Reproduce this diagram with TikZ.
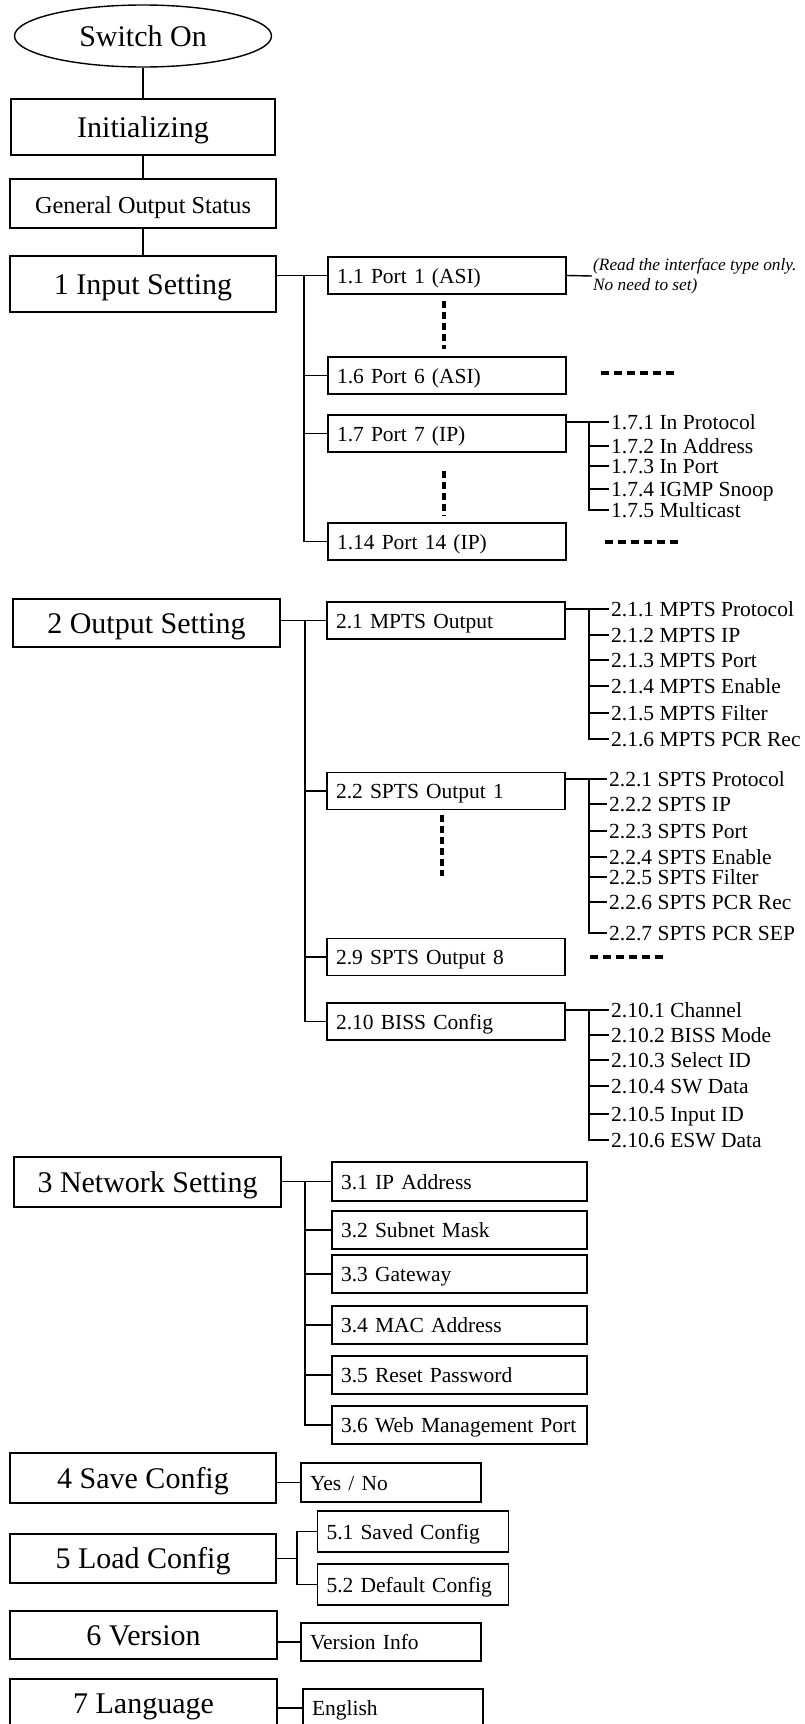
\documentclass[tikz,border=0pt]{standalone}
\usepackage{fontspec}
\setmainfont{Liberation Serif}
\usetikzlibrary{shapes.geometric}

\begin{document}
\begin{tikzpicture}[x=1pt, y=-1pt, every node/.style={inner sep=0pt},
	link/.style={line width=1.4pt},
	mainbox/.style={draw, line width=1.4pt, minimum width=266pt, minimum height=49pt, text height=20pt, text depth=0pt, font=\fontsize{30}{34}\selectfont},
	subbox/.style={draw, line width=1.4pt, minimum height=37pt, text width=#1, inner xsep=9pt, align=left, text height=15pt, text depth=0pt, font=\fontsize{21.5}{25}\selectfont},
	item/.style={anchor=west, inner xsep=2pt, text height=15pt, text depth=0pt, font=\fontsize{21.5}{25}\selectfont},
	etc/.style={line width=4pt, dash pattern=on 7pt off 4pt}]
	\path[use as bounding box] (0,0) rectangle (804,1724);
	\clip (0,0) rectangle (804,1724);

	\node[draw, ellipse, line width=1.4pt, minimum width=257pt, minimum height=62pt, text height=20pt, text depth=0pt, font=\fontsize{30}{34}\selectfont] (sw) at (143,36) {Switch On};
	\node[mainbox, minimum width=264pt, minimum height=56pt] (init) at (143,127) {Initializing};
	\node[mainbox, font=\fontsize{24.3}{28}\selectfont] (gos) at (143,203.5) {General Output Status};
	\node[mainbox, minimum height=56pt] (in) at (143,284) {1 Input Setting};
	\draw[link] (sw) -- (init);
	\draw[link] (init) -- (gos);
	\draw[link] (gos) -- (in);

	\node[subbox=220pt] (p1) at (447,275.5) {1.1 Port 1 (ASI)};
	\node[subbox=220pt] (p6) at (447,375.5) {1.6 Port 6 (ASI)};
	\node[subbox=220pt] (p7) at (447,433.5) {1.7 Port 7 (IP)};
	\node[subbox=220pt] (p14) at (447,541.5) {1.14 Port 14 (IP)};
	\coordinate (tin) at (304,275.5);
	\draw[link] (in.east |- p1.west) -- (p1.west);
	\draw[link] (tin) |- (p14.west);
	\draw[link] (tin |- p6.west) -- (p6.west);
	\draw[link] (tin |- p7.west) -- (p7.west);
	\node[anchor=west, align=left, inner xsep=1pt, font=\itshape\fontsize{17.3}{20}\selectfont] (note) at (592,276) {(Read the interface type only.\\No need to set)};
	\draw[link] (p1.east) -- (note.west);
	\draw[etc] ([shift={(-3pt,-6pt)}]p1.south) -- ([shift={(-3pt,7pt)}]p6.north);
	\draw[etc] ([shift={(-3pt,-18pt)}]p7.south) -- ([shift={(-3pt,6pt)}]p14.north);
	\draw[etc, dash pattern=on 8pt off 5pt] ([shift={(34pt,3pt)}]p6.east) -- ([shift={(107pt,3pt)}]p6.east);
	\draw[etc, dash pattern=on 8pt off 5pt] ([xshift=38pt]p14.east) -- ([xshift=111pt]p14.east);

	\node[item] (a1) at (609,422) {1.7.1 In Protocol};
	\node[item] (a2) at (609,446) {1.7.2 In Address};
	\node[item] (a3) at (609,466) {1.7.3 In Port};
	\node[item] (a4) at (609,489) {1.7.4 IGMP Snoop};
	\node[item] (a5) at (609,510) {1.7.5 Multicast};
	\coordinate (ta) at (589,422);
	\draw[link] (p7.east |- a1.west) -- (a1.west);
	\draw[link] (ta) |- (a5.west);
	\draw[link] (ta |- a2.west) -- (a2.west);
	\draw[link] (ta |- a3.west) -- (a3.west);
	\draw[link] (ta |- a4.west) -- (a4.west);

	\node[mainbox, minimum width=267pt, minimum height=48pt] (out) at (146.5,623) {2 Output Setting};
	\node[subbox=220pt] (o1) at (446,620.5) {2.1 MPTS Output};
	\node[subbox=220pt] (o2) at (446,791) {2.2 SPTS Output 1};
	\node[subbox=220pt] (o9) at (446,957) {2.9 SPTS Output 8};
	\node[subbox=220pt] (o10) at (446,1021.5) {2.10 BISS Config};
	\coordinate (tout) at (305,620.5);
	\draw[link] (out.east |- o1.west) -- (o1.west);
	\draw[link] (tout) |- (o10.west);
	\draw[link] (tout |- o2.west) -- (o2.west);
	\draw[link] (tout |- o9.west) -- (o9.west);
	\draw[etc] ([shift={(-4pt,-5pt)}]o2.south) -- ([shift={(-4pt,-66pt)}]o2.south);
	\draw[etc, dash pattern=on 8pt off 5pt] ([xshift=24pt]o9.east) -- ([xshift=97pt]o9.east);

	\node[item] (b1) at (609,609) {2.1.1 MPTS Protocol};
	\node[item] (b2) at (609,635) {2.1.2 MPTS IP};
	\node[item] (b3) at (609,660) {2.1.3 MPTS Port};
	\node[item] (b4) at (609,686) {2.1.4 MPTS Enable};
	\node[item] (b5) at (609,713) {2.1.5 MPTS Filter};
	\node[item] (b6) at (609,739) {2.1.6 MPTS PCR Rec};
	\coordinate (tb) at (589,609);
	\draw[link] (o1.east |- b1.west) -- (b1.west);
	\draw[link] (tb) |- (b6.west);
	\draw[link] (tb |- b2.west) -- (b2.west);
	\draw[link] (tb |- b3.west) -- (b3.west);
	\draw[link] (tb |- b4.west) -- (b4.west);
	\draw[link] (tb |- b5.west) -- (b5.west);

	\node[item] (c1) at (607,779) {2.2.1 SPTS Protocol};
	\node[item] (c2) at (607,804) {2.2.2 SPTS IP};
	\node[item] (c3) at (607,831) {2.2.3 SPTS Port};
	\node[item] (c4) at (607,857) {2.2.4 SPTS Enable};
	\node[item] (c5) at (607,877) {2.2.5 SPTS Filter};
	\node[item] (c6) at (607,902) {2.2.6 SPTS PCR Rec};
	\node[item] (c7) at (607,933) {2.2.7 SPTS PCR SEP};
	\coordinate (tc) at (589,779);
	\draw[link] (o2.east |- c1.west) -- (c1.west);
	\draw[link] (tc) |- (c7.west);
	\draw[link] (tc |- c2.west) -- (c2.west);
	\draw[link] (tc |- c3.west) -- (c3.west);
	\draw[link] (tc |- c4.west) -- (c4.west);
	\draw[link] (tc |- c5.west) -- (c5.west);
	\draw[link] (tc |- c6.west) -- (c6.west);

	\node[item] (d1) at (609,1010) {2.10.1 Channel};
	\node[item] (d2) at (609,1035) {2.10.2 BISS Mode};
	\node[item] (d3) at (609,1060) {2.10.3 Select ID};
	\node[item] (d4) at (609,1086) {2.10.4 SW Data};
	\node[item] (d5) at (609,1114) {2.10.5 Input ID};
	\node[item] (d6) at (609,1140) {2.10.6 ESW Data};
	\coordinate (td) at (589,1010);
	\draw[link] (o10.east |- d1.west) -- (d1.west);
	\draw[link] (td) |- (d6.west);
	\draw[link] (td |- d2.west) -- (d2.west);
	\draw[link] (td |- d3.west) -- (d3.west);
	\draw[link] (td |- d4.west) -- (d4.west);
	\draw[link] (td |- d5.west) -- (d5.west);

	\node[mainbox, minimum width=267pt, minimum height=50pt] (net) at (147.5,1182) {3 Network Setting};
	\node[subbox=237pt, minimum height=39pt] (n1) at (459.5,1181.5) {3.1 IP Address};
	\node[subbox=237pt, minimum height=38pt] (n2) at (459.5,1230) {3.2 Subnet Mask};
	\node[subbox=237pt, minimum height=38pt] (n3) at (459.5,1274) {3.3 Gateway};
	\node[subbox=237pt, minimum height=38pt] (n4) at (459.5,1325) {3.4 MAC Address};
	\node[subbox=237pt, minimum height=38pt] (n5) at (459.5,1375) {3.5 Reset Password};
	\node[subbox=237pt, minimum height=38pt] (n6) at (459.5,1425) {3.6 Web Management Port};
	\coordinate (tnet) at (305,1181.5);
	\draw[link] (net.east |- n1.west) -- (n1.west);
	\draw[link] (tnet) |- (n6.west);
	\draw[link] (tnet |- n2.west) -- (n2.west);
	\draw[link] (tnet |- n3.west) -- (n3.west);
	\draw[link] (tnet |- n4.west) -- (n4.west);
	\draw[link] (tnet |- n5.west) -- (n5.west);

	\node[mainbox, minimum height=50pt] (save) at (143,1478) {4 Save Config};
	\node[subbox=162pt, minimum height=39pt] (yes) at (391,1482.5) {Yes / No};
	\draw[link] (save.east |- yes.west) -- (yes.west);

	\node[mainbox] (load) at (143,1558.5) {5 Load Config};
	\node[subbox=173pt, minimum height=41pt] (l1) at (413,1531.5) {5.1 Saved Config};
	\node[subbox=173pt, minimum height=41pt] (l2) at (413,1584.5) {5.2 Default Config};
	\coordinate (tload) at (297,1558.5);
	\draw[link] (load.east) -- (tload);
	\draw[link] (l1.west) -| (tload) |- (l2.west);

	\node[mainbox, minimum width=267pt, minimum height=48pt] (ver) at (143.5,1635) {6 Version};
	\node[subbox=162pt, minimum height=38pt] (vinfo) at (391,1642) {Version Info};
	\draw[link] (ver.east |- vinfo.west) -- (vinfo.west);

	\node[mainbox, minimum width=267pt] (lang) at (143.5,1703.5) {7 Language};
	\node[subbox=162pt, minimum height=38pt] (eng) at (393,1708) {English};
	\draw[link] (lang.east |- eng.west) -- (eng.west);
\end{tikzpicture}
\end{document}
